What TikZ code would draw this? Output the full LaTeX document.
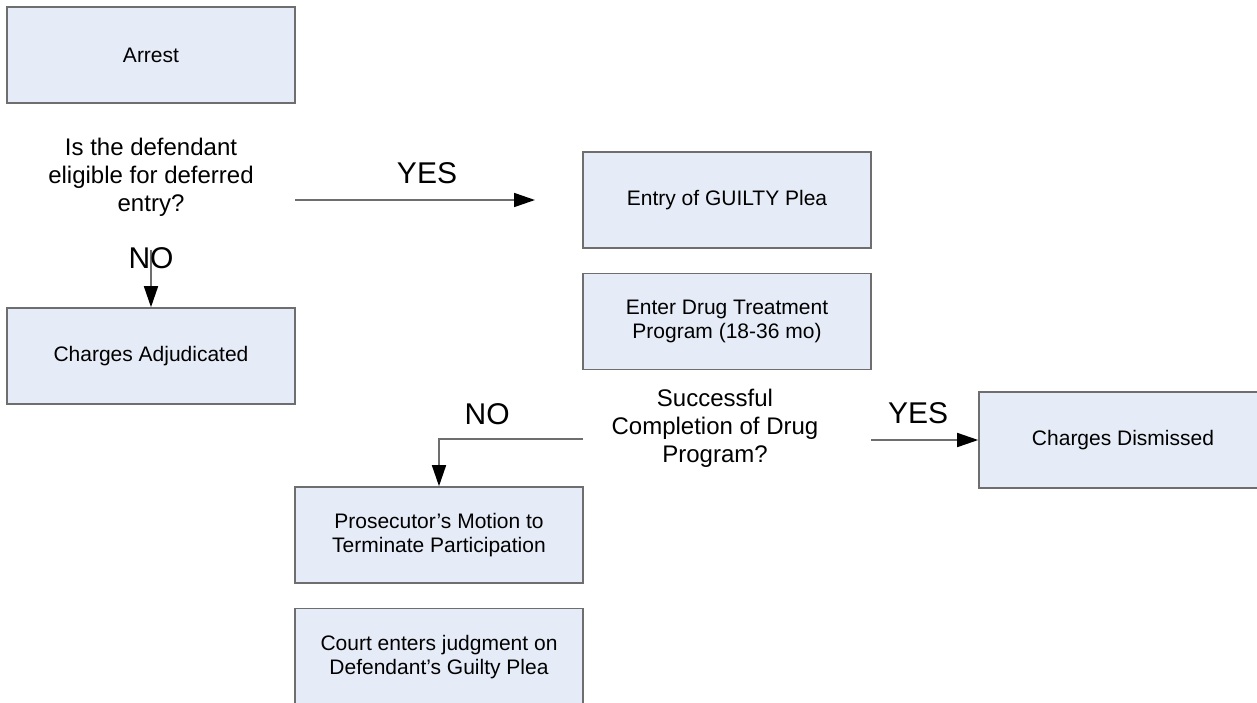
\documentclass[tikz,border=0pt]{standalone}
\usepackage{fontspec}
\setmainfont{Liberation Sans}
\usetikzlibrary{arrows.meta,positioning}
\definecolor{boxfill}{RGB}{230,236,247}
\definecolor{edge}{RGB}{110,110,110}

\begin{document}
\begin{tikzpicture}[
    x=1pt, y=-1pt,
    node distance=24pt,
    stage/.style={rectangle, draw=edge, fill=boxfill, line width=1.6pt, minimum width=288pt, minimum height=96pt, align=center, inner sep=0pt, font=\fontsize{21}{24}\selectfont},
    query/.style={align=center, inner sep=0pt, font=\fontsize{24}{28}\selectfont},
    answer/.style={inner sep=0pt, font=\fontsize{30}{34}\selectfont},
    arrow/.style={-{Triangle[length=21pt, width=14pt, color=black]}, draw=edge, line width=1.6pt}
]
    \useasboundingbox (0,0) rectangle (1257,702);
    \clip (0,0) rectangle (1257,702);

    \node[stage] (arrest) at (151,55) {Arrest};
    \node[query] (eligible) at (151,177) {Is the defendant\\eligible for deferred\\entry?};
    \node[stage] (adjudicated) at (151,356) {Charges Adjudicated};
    \node[stage] (plea) at (727,200) {Entry of GUILTY Plea};
    \node[stage, below=of plea] (treatment) {Enter Drug Treatment\\Program (18-36 mo)};
    \node[query] (completion) at (715,428) {Successful\\Completion of Drug\\Program?};
    \node[stage] (dismissed) at (1123,440) {Charges Dismissed};
    \node[stage] (motion) at (439,535) {Prosecutor’s Motion to\\Terminate Participation};
    \node[stage, below=of motion] (judgment) {Court enters judgment on\\Defendant’s Guilty Plea};

    % free ends of the connectors
    \coordinate (yesfrom) at (295,200);
    \coordinate (yesto) at (535,200);
    \coordinate (nofrom) at (151,250);
    \coordinate (failfrom) at (583,439);
    \coordinate (passfrom) at (871,440);

    \draw[arrow] (yesfrom) -- node[answer, above=15pt, pos=0.55] {YES} (yesto);
    \draw[arrow] (nofrom) -- (adjudicated.north);
    \node[answer] (eligibleno) at (151,258) {NO};
    \draw[arrow] (failfrom) -| node[answer, above=13pt, pos=0.333] {NO} (motion.north);
    \draw[arrow] (passfrom) -- node[answer, above=15pt, pos=0.44] {YES} (dismissed.west);
\end{tikzpicture}
\end{document}
